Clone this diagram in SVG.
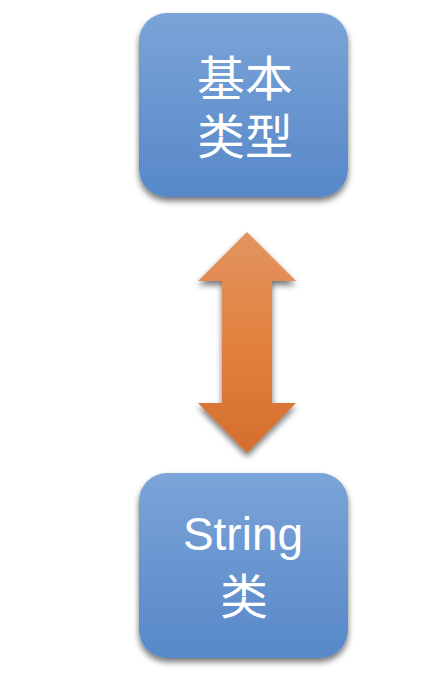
<svg xmlns="http://www.w3.org/2000/svg" width="442" height="685" viewBox="0 0 442 685">
<defs>
<linearGradient id="gBlue" x1="0" y1="0" x2="0" y2="1">
<stop offset="0" stop-color="#7BA4D8"/>
<stop offset="1" stop-color="#5788C8"/>
</linearGradient>
<linearGradient id="gOrange" x1="0" y1="0" x2="0" y2="1">
<stop offset="0" stop-color="#E29461"/>
<stop offset="0.5" stop-color="#E2823F"/>
<stop offset="1" stop-color="#D46E2E"/>
</linearGradient>
<filter id="sh" x="-20%" y="-20%" width="140%" height="140%">
<feGaussianBlur in="SourceAlpha" stdDeviation="3"/>
<feOffset dx="0" dy="4" result="b"/>
<feComponentTransfer><feFuncA type="linear" slope="0.55"/></feComponentTransfer>
<feMerge><feMergeNode/><feMergeNode in="SourceGraphic"/></feMerge>
</filter>
<style>
.box{fill:url(#gBlue);filter:url(#sh)}
.t{fill:#FFFFFF;text-anchor:middle;font-family:"Liberation Sans","Noto Sans CJK SC",sans-serif}
.cjk{font-size:48px}
.lat{font-size:46px}
</style>
</defs>
<rect width="442" height="685" fill="#FFFFFF"/>
<g id="node-basic">
<rect class="box" x="139" y="13" width="209" height="184" rx="28" ry="28"/>
<text class="t cjk" x="245" y="96">基本</text>
<text class="t cjk" x="245" y="154">类型</text>
</g>
<g id="connectors">
<path d="M247 232 L296 281 L272 281 L272 403 L296 403 L247 453 L198 403 L222 403 L222 281 L198 281 Z" fill="url(#gOrange)" filter="url(#sh)"/>
</g>
<g id="node-string">
<rect class="box" x="139" y="473" width="209" height="185" rx="28" ry="28"/>
<text class="t lat" x="243" y="550">String</text>
<text class="t cjk" x="244" y="614">类</text>
</g>
</svg>
